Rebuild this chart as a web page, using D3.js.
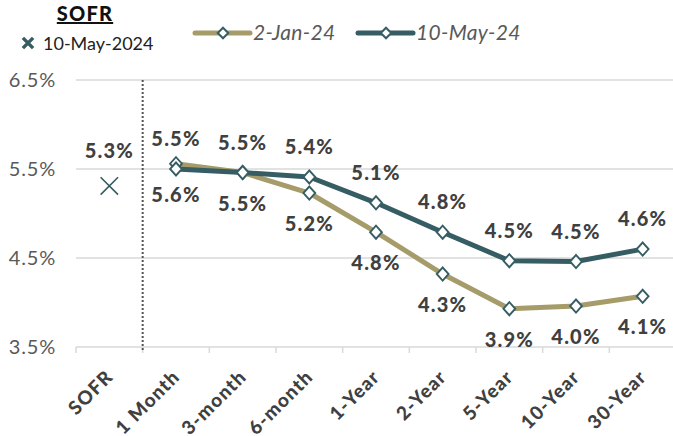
<!DOCTYPE html>
<html>
<head>
<meta charset="utf-8">
<script src="https://cdn.jsdelivr.net/npm/d3@7"></script>
<style>
  body { margin: 0; background: #fff; }
  svg { display: block; font-family: Lato, "Open Sans", sans-serif; }
</style>
</head>
<body>
<div id="wrap"></div>
<script>
var w = 673;
var h = 436;

var categories = ["SOFR", "1 Month", "3-month", "6-month", "1-Year", "2-Year", "5-Year", "10-Year", "30-Year"];
var jan24 = [null, 5.56, 5.46, 5.23, 4.79, 4.32, 3.93, 3.96, 4.07];
var may24 = [null, 5.50, 5.46, 5.41, 5.12, 4.79, 4.47, 4.46, 4.60];
var sofrValue = 5.31;
var yTicks = [3.5, 4.5, 5.5, 6.5];

var tan = "#a59c6a";
var teal = "#355d63";
var labelColor = "#404040";

var svg = d3.select("#wrap").append("svg").attr("width", w).attr("height", h);

var x = d3.scaleBand().domain(categories).range([76, 676]);
var y = d3.scaleLinear().domain([3.5, 6.5]).range([347, 80]);
var fmt = function(v){ return d3.format(".1f")(v) + "%"; };

// gridlines
svg.append("g").selectAll("line").data(yTicks).enter().append("line")
  .attr("x1", 76).attr("x2", w)
  .attr("y1", function(d){ return y(d); }).attr("y2", function(d){ return y(d); })
  .attr("stroke", "#d9d9d9").attr("stroke-width", 1.5);

// y labels
svg.append("g").selectAll("text").data(yTicks).enter().append("text")
  .attr("x", 56).attr("y", function(d){ return y(d) + 7; })
  .attr("text-anchor", "end").attr("font-size", 20).attr("letter-spacing", 0.8).attr("fill", "#595959")
  .text(function(d){ return d.toFixed(1) + "%"; });

// bottom ticks at band boundaries
var bounds = categories.map(function(c){ return x(c); });
svg.append("g").selectAll("line").data(bounds).enter().append("line")
  .attr("x1", function(d){ return d; }).attr("x2", function(d){ return d; })
  .attr("y1", y(3.5)).attr("y2", y(3.5) + 6)
  .attr("stroke", "#d9d9d9").attr("stroke-width", 1.5);

// category labels
svg.append("g").selectAll("text").data(categories).enter().append("text")
  .attr("transform", function(d){ return "translate(" + (x(d) + x.bandwidth()/2 + 5) + "," + 378 + ") rotate(-45)"; })
  .attr("text-anchor", "end").attr("font-size", 19).attr("font-weight", 900).attr("letter-spacing", 1.2)
  .attr("fill", labelColor)
  .text(function(d){ return d; });

// dotted separator
svg.append("line")
  .attr("x1", x("1 Month")).attr("x2", x("1 Month"))
  .attr("y1", 80).attr("y2", 350)
  .attr("stroke", "#555").attr("stroke-width", 2).attr("stroke-dasharray", "2,2");

var cx = function(d, i){ return x(categories[i]) + x.bandwidth()/2; };
var line = d3.line()
  .defined(function(d){ return d !== null; })
  .x(cx).y(function(d){ return y(d); });

function drawSeries(data, color) {
  svg.append("path").datum(data)
    .attr("d", line).attr("fill", "none")
    .attr("stroke", color).attr("stroke-width", 5).attr("stroke-linejoin", "round");
}
function drawMarkers(data, above) {
  var pts = data.map(function(d, i){ return {v: d, i: i}; }).filter(function(p){ return p.v !== null; });
  svg.append("g").selectAll("path").data(pts).enter().append("path")
    .attr("d", d3.symbol().type(d3.symbolDiamond2).size(110))
    .attr("transform", function(p){ return "translate(" + cx(p.v, p.i) + "," + y(p.v) + ") scale(0.9,1)"; })
    .attr("fill", "#fff").attr("stroke", teal).attr("stroke-width", 2);
  svg.append("g").selectAll("text").data(pts).enter().append("text")
    .attr("x", function(p){ return cx(p.v, p.i); })
    .attr("y", function(p){ return y(p.v) + (above ? -30 : 31) + 7; })
    .attr("text-anchor", "middle").attr("font-size", 20).attr("font-weight", 900).attr("letter-spacing", 1.2)
    .attr("fill", labelColor)
    .text(function(p){ return fmt(p.v); });
}

drawSeries(jan24, tan);
drawSeries(may24, teal);
drawMarkers(jan24, false);
drawMarkers(may24, true);

// SOFR marker
var sx = x("SOFR") + x.bandwidth()/2;
svg.append("path")
  .attr("d", d3.symbol().type(d3.symbolX).size(200))
  .attr("transform", "translate(" + sx + "," + y(sofrValue) + ")")
  .attr("fill", "none").attr("stroke", teal).attr("stroke-width", 1.6);
svg.append("text")
  .attr("x", sx).attr("y", y(sofrValue) - 28)
  .attr("text-anchor", "middle").attr("font-size", 20).attr("font-weight", 900).attr("letter-spacing", 1.2)
  .attr("fill", labelColor)
  .text(fmt(sofrValue));

// legend - SOFR
svg.append("text").attr("x", 85).attr("y", 21).attr("text-anchor", "middle")
  .attr("font-size", 20).attr("font-weight", 900).attr("letter-spacing", 1.2).attr("fill", "#111")
  .attr("text-decoration", "underline").text("SOFR");
svg.append("path")
  .attr("d", d3.symbol().type(d3.symbolX).size(70))
  .attr("transform", "translate(28,43)")
  .attr("fill", "none").attr("stroke", teal).attr("stroke-width", 3.5);
svg.append("text").attr("x", 43).attr("y", 50).attr("font-size", 18).attr("fill", "#222").text("10-May-2024");

// legend - series
var legend = [{name: "2-Jan-24", color: tan, x0: 195}, {name: "10-May-24", color: teal, x0: 358}];
legend.forEach(function(l){
  svg.append("line").attr("x1", l.x0).attr("x2", l.x0 + 55).attr("y1", 33).attr("y2", 33)
    .attr("stroke", l.color).attr("stroke-width", 5).attr("stroke-linecap", "round");
  svg.append("path")
    .attr("d", d3.symbol().type(d3.symbolDiamond2).size(70))
    .attr("transform", "translate(" + (l.x0 + 28) + ",33)")
    .attr("fill", "#fff").attr("stroke", teal).attr("stroke-width", 2);
  svg.append("text").attr("x", l.x0 + 58).attr("y", 40).attr("font-size", 21).attr("font-style", "italic")
    .attr("letter-spacing", 0.3).attr("fill", "#595959").text(l.name);
});
</script>
</body>
</html>
